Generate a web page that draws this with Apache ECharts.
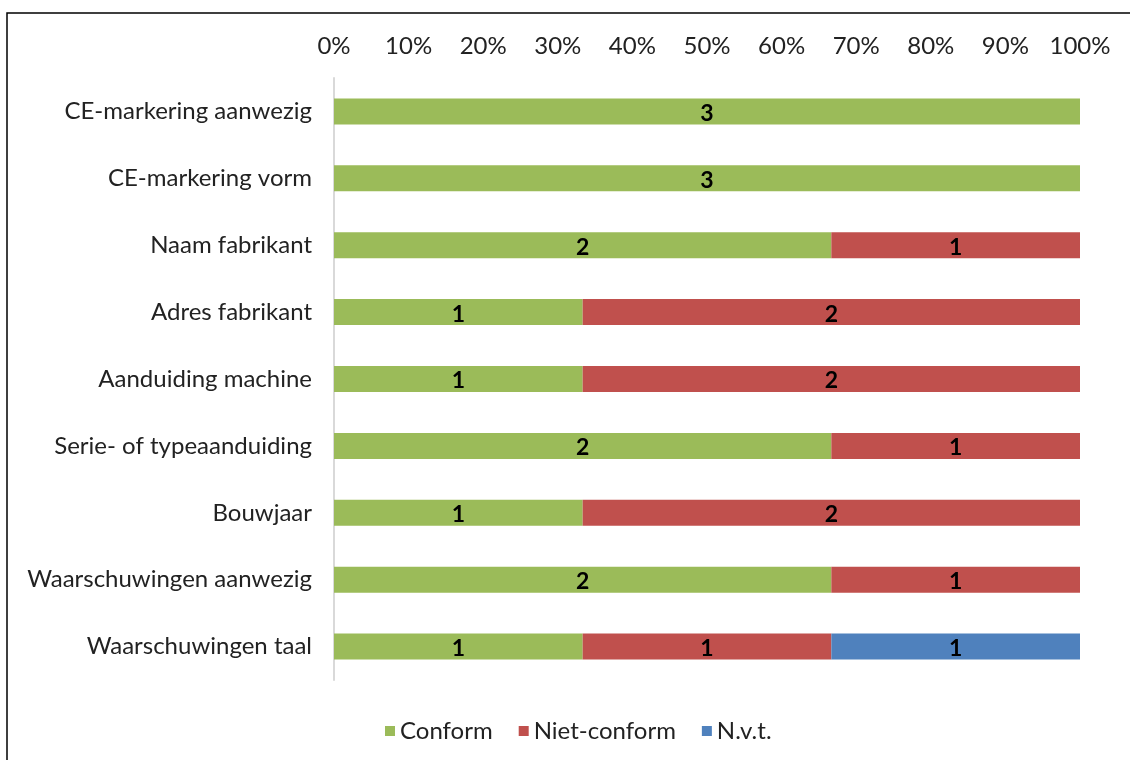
<!DOCTYPE html>
<html>
<head>
<meta charset="UTF-8">
<title>Markering</title>
<script src="https://cdn.jsdelivr.net/npm/echarts@6/dist/echarts.min.js"></script>
<style>
  html, body { margin: 0; padding: 0; background: #fff; }
</style>
</head>
<body>
    <div id="main" style="width: 1130px;height:760px;"></div>

    <script type="text/javascript">
    // categorieen, van boven naar beneden
    var categories = ['CE-markering aanwezig', 'CE-markering vorm', 'Naam fabrikant', 'Adres fabrikant',
        'Aanduiding machine', 'Serie- of typeaanduiding', 'Bouwjaar', 'Waarschuwingen aanwezig', 'Waarschuwingen taal'];
    // aantallen per categorie
    var conform     = [3, 3, 2, 1, 1, 2, 1, 2, 1];
    var nietConform = [0, 0, 1, 2, 2, 1, 2, 1, 1];
    var nvt         = [0, 0, 0, 0, 0, 0, 0, 0, 1];
    var seriesNames = ['Conform', 'Niet-conform', 'N.v.t.'];
    var colors = ['#9BBB59', '#C0504D', '#4F81BD'];

    var counts = [conform, nietConform, nvt];
    var totals = categories.map(function (c, i) {
        return conform[i] + nietConform[i] + nvt[i];
    });

    var myChart = echarts.init(document.getElementById('main'));

    var series = counts.map(function (arr, s) {
        return {
            name: seriesNames[s],
            type: 'bar',
            stack: 'totaal',
            barWidth: 26,
            itemStyle: { color: colors[s] },
            label: {
                show: true,
                color: '#000',
                fontFamily: 'Lato',
                fontWeight: 'bold',
                fontSize: 23,
                offset: [0, 2],
                formatter: function (p) { return p.data.n > 0 ? p.data.n : ''; }
            },
            data: arr.map(function (v, i) {
                return { value: v / totals[i] * 100, n: v };
            })
        };
    });

    var option = {
        textStyle: { fontFamily: 'Lato' },
        animation: false,
        graphic: [{
            type: 'rect',
            shape: { x: 7, y: 13, width: 1200, height: 800 },
            style: { fill: 'none', stroke: '#000', lineWidth: 1.5 },
            silent: true
        }],
        grid: { left: 334, right: 50, top: 78, bottom: 80 },
        legend: {
            bottom: 12,
            left: 380,
            itemWidth: 10,
            itemHeight: 10,
            itemGap: 26,
            icon: 'rect',
            textStyle: { fontSize: 24, color: '#222', fontFamily: 'Lato' },
            data: seriesNames
        },
        xAxis: {
            type: 'value',
            position: 'top',
            min: 0,
            max: 100,
            interval: 10,
            axisLabel: { formatter: '{value}%', fontSize: 24, color: '#222', margin: 20 },
            axisLine: { show: false },
            axisTick: { show: false },
            splitLine: { show: false }
        },
        yAxis: {
            type: 'category',
            inverse: true,
            data: categories,
            axisLine: { show: true, lineStyle: { color: '#d9d9d9', width: 2 } },
            axisTick: { show: false },
            axisLabel: { fontSize: 24, color: '#222', margin: 22 }
        },
        series: series
    };

    myChart.setOption(option);
    </script>
</body>
</html>
